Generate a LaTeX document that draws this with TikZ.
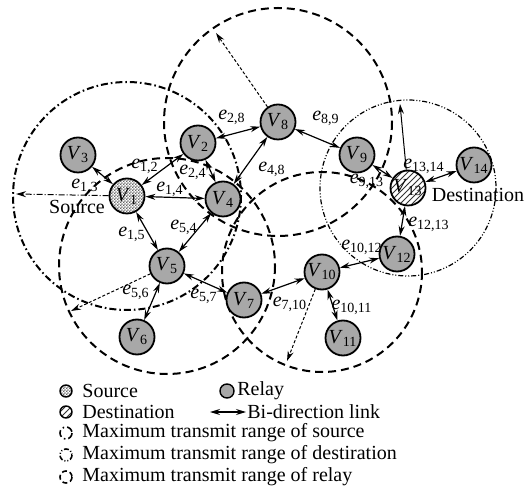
\documentclass[tikz,border=0pt]{standalone}
\usepackage{fontspec}
\setmainfont{Liberation Serif}
\usepackage{tikz}
\usetikzlibrary{arrows.meta,patterns,backgrounds}
\definecolor{nodegray}{rgb}{.66,.66,.66}
\newcommand{\vlab}[1]{\textit{V}\textsubscript{#1}}
\newcommand{\elab}[1]{\textit{e}\textsubscript{#1}}
\pgfdeclarepatternformonly{finecheck}{\pgfpointorigin}{\pgfpoint{1.6pt}{1.6pt}}{\pgfpoint{1.6pt}{1.6pt}}{
  \pgfpathrectangle{\pgfpointorigin}{\pgfpoint{0.8pt}{0.8pt}}
  \pgfpathrectangle{\pgfpoint{0.8pt}{0.8pt}}{\pgfpoint{0.8pt}{0.8pt}}
  \pgfusepath{fill}}

\begin{document}
\begin{tikzpicture}[x=0.5pt,y=-0.5pt,
    relay/.style={circle,draw,line width=0.9pt,fill=nodegray,minimum size=17.5pt,inner sep=0pt},
    srcnode/.style={relay,fill=none,preaction={fill=white},pattern=finecheck,pattern color=black!60},
    dstnode/.style={relay,fill=none,preaction={fill=white},pattern=north east lines,pattern color=black!80},
    link/.style={{Stealth[length=5pt,width=3pt]}-{Stealth[length=5pt,width=3pt]},line width=0.6pt},
    srcrange/.style={line width=1pt,dash pattern=on 3.5pt off 1.5pt on 0.8pt off 1.5pt},
    dstrange/.style={line width=0.6pt,dash pattern=on 2.5pt off 1pt on 0.5pt off 1pt on 0.5pt off 1pt},
    relrange/.style={line width=1pt,dash pattern=on 4pt off 2.5pt},
    radius arrow/.style={-{Stealth[length=5pt,width=3pt]},line width=0.5pt},
    elabel/.style={inner sep=0pt},
    legtext/.style={anchor=west,inner sep=0pt}]
\useasboundingbox (0,0) rectangle (528,490);

   \node[srcnode] (v1) at (127,196) {\vlab{1}};
   \node[relay] (v2) at (198,143) {\vlab{2}};
   \node[relay] (v3) at (78,155) {\vlab{3}};
   \node[relay] (v4) at (223,199) {\vlab{4}};
   \node[relay] (v5) at (167,266) {\vlab{5}};
   \node[relay] (v6) at (137,337) {\vlab{6}};
   \node[relay] (v7) at (244,300) {\vlab{7}};
   \node[relay] (v8) at (278,122) {\vlab{8}};
   \node[relay] (v9) at (357,155) {\vlab{9}};
   \node[relay] (v10) at (322,272) {\vlab{10}};
   \node[relay] (v11) at (343,338) {\vlab{11}};
   \node[relay] (v12) at (397,254) {\vlab{12}};
   \node[dstnode] (v13) at (408,188) {\vlab{13}};
   \node[relay] (v14) at (474,165) {\vlab{14}};

   \node (srctext) at (77,207) {Source};
   \node (dsttext) at (478,195) {Destination};

\begin{scope}[on background layer]
   \draw[srcrange] (v1) circle (114);
   \draw[dstrange] (v13) circle (88);
   \draw[relrange] (v5) circle (108);
   \draw[relrange] (v8) circle (114);
   \draw[relrange] (v10) circle (100);
\end{scope}

   \coordinate (r1) at (16,194);
   \coordinate (r5) at (71,311);
   \coordinate (r8) at (216,33);
   \coordinate (r10) at (287,361);
   \coordinate (r13) at (400,104);
   \draw[radius arrow,dash pattern=on 3pt off 1pt on 0.5pt off 1pt] (v1) -- (r1);
   \draw[radius arrow,dash pattern=on 1.5pt off 1pt] (v5) -- (r5);
   \draw[radius arrow,dash pattern=on 1.5pt off 1pt] (v8) -- (r8);
   \draw[radius arrow,dash pattern=on 1.5pt off 1pt] (v10) -- (r10);
   \draw[radius arrow] (v13) -- (r13);

   \draw[link] (v1) -- (v2);
   \draw[link] (v1) -- (v3);
   \draw[link] (v1) -- (v4);
   \draw[link] (v1) -- (v5);
   \draw[link] (v2) -- (v4);
   \draw[link] (v2) -- (v8);
   \draw[link] (v4) -- (v8);
   \draw[link] (v5) -- (v4);
   \draw[link] (v5) -- (v6);
   \draw[link] (v5) -- (v7);
   \draw[link] (v7) -- (v10);
   \draw[link] (v8) -- (v9);
   \draw[link] (v9) -- (v13);
   \draw[link] (v10) -- (v11);
   \draw[link] (v10) -- (v12);
   \draw[link] (v12) -- (v13);
   \draw[link] (v13) -- (v14);

\node[elabel] (e12) at (145,166) {\elab{1,2}};
\node[elabel] (e13) at (85,186) {\elab{1,3}};
\node[elabel] (e14) at (170,189) {\elab{1,4}};
\node[elabel] (e15) at (132,234) {\elab{1,5}};
\node[elabel] (e24) at (193,172) {\elab{2,4}};
\node[elabel] (e28) at (232,117) {\elab{2,8}};
\node[elabel] (e48) at (272,169) {\elab{4,8}};
\node[elabel] (e54) at (184,227) {\elab{5,4}};
\node[elabel] (e56) at (136,292) {\elab{5,6}};
\node[elabel] (e57) at (204,296) {\elab{5,7}};
\node[elabel] (e710) at (290,304) {\elab{7,10}};
\node[elabel] (e89) at (326,118) {\elab{8,9}};
\node[elabel] (e913) at (367,181) {\elab{9,13}};
\node[elabel] (e1011) at (352,307) {\elab{10,11}};
\node[elabel] (e1012) at (362,247) {\elab{10,12}};
\node[elabel] (e1213) at (429,224) {\elab{12,13}};
\node[elabel] (e1314) at (424,166) {\elab{13,14}};

  \node[srcnode,minimum size=6pt,line width=0.7pt] (lsrc) at (66,391) {};
  \node[legtext] (lsrctext) at (82,391) {Source};
  \node[relay,minimum size=7pt,line width=0.7pt] (lrel) at (227,391) {};
  \node[legtext] (lreltext) at (237,391) {Relay};
  \node[dstnode,minimum size=6pt,line width=0.7pt] (ldst) at (66,412) {};
  \node[legtext] (ldsttext) at (82,412) {Destination};
  \coordinate (la1) at (210,412);
  \coordinate (la2) at (246,412);
  \draw[link] (la1) -- (la2);
  \node[legtext] (llinktext) at (247,412) {Bi-direction link};
  \draw[srcrange,line width=0.8pt] (66,433) circle (6) coordinate (lsr);
  \node[legtext] (lsrtext) at (82,433) {Maximum transmit range of source};
  \draw[dstrange,line width=0.8pt] (66,455) circle (6) coordinate (ldr);
  \node[legtext] (ldrtext) at (82,455) {Maximum transmit range of destiration};
  \draw[relrange,line width=0.8pt,dash pattern=on 2.5pt off 1.5pt] (66,477) circle (6) coordinate (lrr);
  \node[legtext] (lrrtext) at (82,477) {Maximum transmit range of relay};

  \end{tikzpicture}
\end{document}
